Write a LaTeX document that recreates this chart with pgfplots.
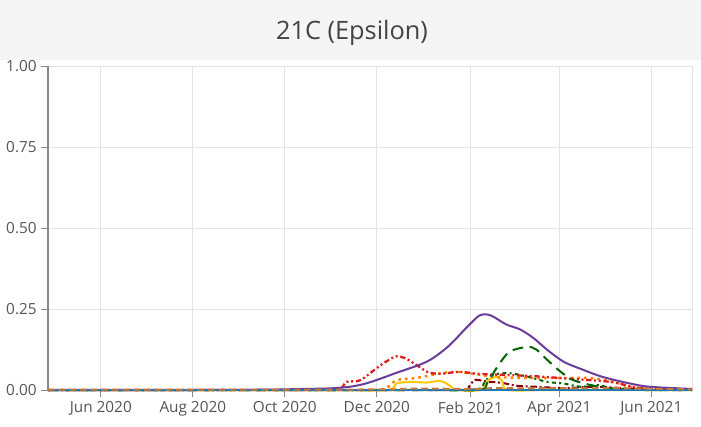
\documentclass[border=0pt]{standalone}
\usepackage{fontspec}
\setmainfont{Open Sans}
\usepackage{pgfplots}
\pgfplotsset{compat=1.18}
\definecolor{bandgray}{HTML}{F5F5F5}
\definecolor{titlegray}{HTML}{444444}
\definecolor{labelgray}{HTML}{555555}
\definecolor{gridgray}{HTML}{E3E3E3}
\definecolor{axisgray}{HTML}{888888}
\definecolor{cpurple}{HTML}{6A3D9A}
\definecolor{cred}{HTML}{E31A1C}
\definecolor{corange}{HTML}{FF7F00}
\definecolor{cyellow}{HTML}{FFC800}
\definecolor{cdgreen}{HTML}{006400}
\definecolor{cdred}{HTML}{8B0000}
\definecolor{cblue}{HTML}{1F78B4}
\definecolor{ctan}{HTML}{C0793F}
\begin{document}
\begin{tikzpicture}[x=0.75pt,y=0.75pt]
\fill[white] (0,0) rectangle (701,426);
\fill[bandgray] (0,366) rectangle (701,426);
\node[font=\fontsize{19}{22}\selectfont, text=titlegray] at (352,393) {21C (Epsilon)};
\begin{axis}[
  at={(36pt,27pt)}, anchor=south west,
  scale only axis, width=483pt, height=243pt,
  xmin=-35, xmax=392, ymin=0, ymax=1,
  xtick={0,61,122,183,245,304,365},
  xticklabels={Jun 2020,Aug 2020,Oct 2020,Dec 2020,Feb 2021,Apr 2021,Jun 2021},
  ytick={0,0.25,0.5,0.75,1},
  yticklabel style={/pgf/number format/.cd, fixed, fixed zerofill, precision=2},
  /pgf/number format/assume math mode=true,
  grid=major, major grid style={gridgray, line width=0.75pt},
  axis line style={gridgray, line width=0.75pt},
  tick pos=left, tick align=outside, major tick length=5pt,
  tick style={axisgray, line width=0.75pt},
  ticklabel style={font=\fontsize{11.5}{13}\selectfont, text=labelgray},
  clip=false,
  every axis plot/.append style={line width=1.5pt, smooth, tension=0.5},
]
\draw[axisgray, line width=1pt] (rel axis cs:0,0) -- (rel axis cs:0,1);
% dark red dashdot
\addplot[cdred, dash pattern=on 5pt off 2pt on 1.5pt off 2pt] coordinates {(-35,0) (160,0) (238,0) (244,0.01) (248,0.031) (256,0.026) (266,0.022) (276,0.013) (289,0.01) (307,0.006) (330,0.01) (360,0.002) (392,0)};
% dark green dotted
\addplot[cdgreen, dash pattern=on 1.5pt off 2.5pt on 3pt off 2.5pt] coordinates {(-35,0) (200,0) (248,0.002) (254,0.02) (259,0.046) (271,0.052) (284,0.04) (296,0.025) (307,0.02) (318,0.01) (330,0.015) (340,0.004) (360,0) (392,0)};
% yellow
\addplot[cyellow] coordinates {(-35,0) (150,0) (190,0) (196,0.02) (205,0.025) (216,0.023) (225,0.028) (231,0.015) (236,0) (252,0) (257,0.031) (262,0.04) (266,0.03) (270,0) (300,0) (392,0)};
% orange dotted
\addplot[corange, dash pattern=on 2pt off 3pt, line width=1.8pt] coordinates {(-35,0) (150,0) (186,0.002) (196,0.03) (209,0.037) (226,0.052) (236,0.056) (247,0.05) (262,0.04) (284,0.037) (307,0.037) (325,0.037) (340,0.025) (351,0.01) (365,0.003) (392,0.001)};
% red dash-dot-dot
\addplot[cred, dash pattern=on 4pt off 2pt on 1.5pt off 2pt on 1.5pt off 2pt, line width=1.7pt] coordinates {(-35,0) (140,0) (158,0.003) (163,0.025) (172,0.03) (183,0.068) (190,0.09) (196,0.104) (202,0.098) (210,0.075) (217,0.055) (225,0.05) (238,0.056) (250,0.05) (270,0.046) (290,0.042) (310,0.035) (338,0.025) (358,0.006) (392,0.003)};
% dark green dashed
\addplot[cdgreen, dash pattern=on 8pt off 5pt] coordinates {(-35,0) (200,0) (250,0) (256,0.02) (263,0.072) (271,0.118) (283,0.133) (289,0.124) (296,0.093) (305,0.056) (313,0.031) (325,0.015) (336,0.006) (360,0) (392,0)};
% purple
\addplot[cpurple] coordinates {(-35,0) (60,0) (110,0.001) (132,0.003) (152,0.005) (165,0.01) (174,0.018) (183,0.031) (196,0.053) (216,0.087) (230,0.133) (243,0.195) (251,0.23) (256,0.233) (260,0.227) (269,0.202) (278,0.187) (287,0.16) (296,0.124) (307,0.087) (320,0.062) (333,0.04) (351,0.02) (364,0.01) (392,0.003)};
% blue at zero
\addplot[cblue, line width=1.3pt] coordinates {(-35,0) (100,0) (200,0) (300,0) (392,0)};
% tan dashed near zero
\addplot[ctan, dash pattern=on 5pt off 3pt, line width=1.5pt] coordinates {(-35,0.001) (120,0.001) (190,0.002) (205,0.004) (225,0.004) (245,0.003) (262,0.006) (280,0.005) (300,0.006) (320,0.005) (340,0.006) (360,0.004) (392,0.002)};
\end{axis}
\pgfresetboundingbox
\useasboundingbox (0,0) rectangle (701,426);
\end{tikzpicture}
\end{document}
